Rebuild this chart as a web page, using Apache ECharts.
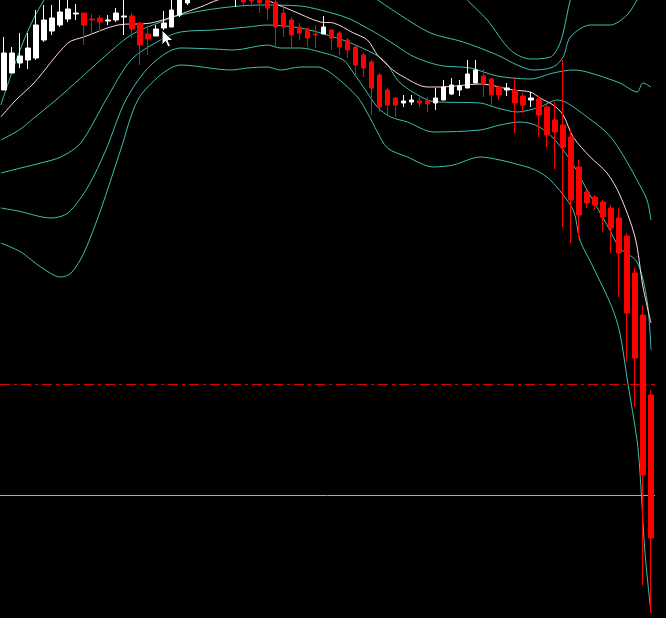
<!DOCTYPE html>
<html><head><meta charset="utf-8">
<script src="https://cdn.jsdelivr.net/npm/echarts@6/dist/echarts.min.js"></script>
<style>html,body{margin:0;padding:0;background:#000}#c{width:666px;height:618px}</style>
</head><body><div id="c"></div>
<script>
// candles: [open, close, low, high]
const candles = [
[528,565,528,581],[545,565,545,571],[555,562,550,585],[558,570,549,585],[560,593,558,608],
[578,598,576,613],[587,600,583,613],[593,606,591,618],[599,609,596,618],[604,605,598,614],
[605,593,573,605],[599,598,585,604],[600,596,586,603],[597,598,593,603],[598,605,596,610],
[601,602,583,618],[602,589,580,605],[595,573,553,596],[584,579,563,593],[582,589,582,593],
[590,595,588,607],[591,608,591,623],[603,623,601,628],[615,633,613,638],[633,643,628,648],
[643,638,630,648],[638,646,633,653],[646,636,628,650],[636,643,628,648],[621,633,611,638],
[633,616,613,636],[623,617,611,628],[621,615,605,626],[618,610,598,623],[616,591,571,618],
[605,591,581,611],[598,583,570,601],[591,585,578,595],[589,580,571,590],[584,583,570,593],
[584,591,584,602],[588,580,568,588],[585,571,563,587],[578,568,560,580],[571,553,541,573],
[563,550,541,565],[556,530,503,558],[543,511,506,545],[528,513,503,530],[520,513,501,521],
[515,517,511,523],[516,518,513,523],[517,515,511,521],[517,514,506,521],[515,520,508,530],
[518,531,518,538],[524,533,523,540],[528,532,522,538],[530,544,530,558],[535,548,535,558],
[542,534,521,549],[539,523,513,540],[531,523,518,532],[528,530,522,535],[528,515,485,541],
[522,513,505,525],[518,520,511,526],[519,503,481,523],[511,483,471,513],[498,486,449,516],
[493,471,391,558],[481,418,375,488],[451,403,381,458],[426,415,410,428],[421,413,408,423],
[416,401,386,418],[410,390,365,413],[400,365,321,410],[382,305,256,385],[345,260,211,350],
[303,143,33,313],[223,80,5,228]
];
const categories = candles.map((_, i) => 'B' + (i + 1));
// lines: [bar position, price]
const maLine = [[-0.4,501],[1.5,518],[3.75,535],[8,575],[10,581],[14.25,593],[18.4,595],[24.6,611],[26.75,618],[29.6,622],[32.1,621],[33.75,615],[35.9,608],[39.6,596],[41.25,595],[43.75,585],[45.5,578],[46.75,563],[48.4,550],[49.6,543],[53,531],[54.6,531],[59.6,534],[63.75,528],[65.9,526],[67.1,520],[68.75,513],[70,503],[71.25,481],[73.4,461],[75.5,445],[77.1,423],[79,381],[80,331],[81,295]];
const bandMid = [[-0.4,478],[1.9,488],[3.75,500],[6.5,518],[9.6,540],[12.1,558],[15.9,583],[19.6,596],[22.1,603],[27.1,610],[32.1,613],[37.1,612],[39.6,608],[43,600],[45.9,588],[48.4,576],[50.9,563],[53,556],[55,552],[58.4,550],[61.75,542],[65.9,539],[68.75,545],[71.25,548],[73,546],[77.1,535],[79.25,526],[80,535],[81,531]];
const bandLow1 = [[-0.4,445],[2.1,450],[4.6,455],[7.1,461],[9.6,475],[12.75,518],[15.9,558],[19.6,578],[22.1,586],[26.25,588],[30.5,591],[33,593],[37.1,590],[40.9,582],[44,573],[47.5,558],[49.6,535],[53,518],[54.6,516],[59.6,515],[61.75,510],[64.25,506],[67.1,511],[69.25,518],[70.5,515],[73,501],[75.5,485],[77.1,468],[79.25,438],[80.5,418],[81,398]];
const bandLow2 = [[-0.4,410],[1.75,407],[5.9,400],[8,405],[10.5,431],[12.75,468],[15.25,518],[18.4,553],[22.1,570],[26.25,569],[28.75,568],[33,573],[34.6,570],[37.1,570],[39.6,566],[42.5,558],[43.75,545],[45.25,528],[46.75,511],[48.4,501],[50.5,496],[53.75,486],[59.6,488],[62.1,493],[64.6,496],[66.5,493],[68.4,483],[70.9,458],[73,428],[75.5,393],[77.1,370],[79.25,356],[80.5,318],[81,268]];
const bandLow3 = [[-0.4,375],[2.1,366],[4.6,351],[7.1,341],[8.4,345],[10,365],[12.1,408],[14.6,468],[16.75,518],[19.6,543],[22.1,553],[28.4,548],[30.5,550],[33,551],[34.6,548],[37.1,551],[39.25,551],[41.25,543],[44.25,521],[45.5,505],[46.75,486],[48,470],[50.5,461],[53.75,451],[56.25,453],[59.6,461],[62.1,458],[64.6,453],[66.5,448],[68.4,438],[71.25,408],[72.1,378],[73.75,351],[76.1,311],[77.1,285],[78.1,235],[79.25,178],[79.6,148],[80.25,65],[81,5]];
const bandUp1Left = [[-0.4,513],[1.1,548],[2.5,578],[3.75,600],[5,618],[5.6,626]];
const bandUp2 = [[45.9,623],[49.6,603],[53.4,585],[57.5,576],[61.75,563],[64.25,553],[66.25,548],[68.75,551],[70,561],[70.9,581],[73.4,593],[75.9,593],[78,603],[79.25,618],[79.6,623]];
const bandUp3 = [[57.5,623],[58,618],[60.5,598],[63.4,568],[65.9,559],[68.4,561],[69.4,571],[70,585],[70.9,618],[71.5,628]];
const dashLevel = 234;
const greyLevel = 123;

const chart = echarts.init(document.getElementById('c'), null, {renderer: 'canvas'});
const cyan = '#3fbfae';
function band(name, data) {
  return {name, type: 'line', xAxisIndex: 1, data, showSymbol: false, smooth: 0.3,
    lineStyle: {color: cyan, width: 1}, z: 2, silent: true};
}
chart.setOption({
  backgroundColor: '#000',
  animation: false,
  grid: {left: -1, top: 0, width: 656, height: 618},
  xAxis: [
    {type: 'category', data: categories, show: false, boundaryGap: true},
    {type: 'value', min: -0.5, max: 81.5, show: false}
  ],
  yAxis: {type: 'value', min: 0, max: 618, show: false, splitLine: {show: false}},
  graphic: [{
    type: 'polygon', z: 100,
    shape: {points: [[162,30],[162,45],[165.5,41.5],[168,47],[170.5,46],[168,40.5],[173,40.5]]},
    style: {fill: '#ffffff', stroke: '#000000', lineWidth: 1}
  }],
  series: [
    band('Up3', bandUp3), band('Up2', bandUp2), band('Up1', bandUp1Left),
    band('Mid', bandMid), band('Low1', bandLow1), band('Low2', bandLow2), band('Low3', bandLow3),
    {name: 'MA', type: 'line', xAxisIndex: 1, data: maLine, showSymbol: false, smooth: 0.3,
      lineStyle: {color: '#ffd8dc', width: 1}, z: 3, silent: true,
      markLine: {symbol: 'none', silent: true, label: {show: false},
        data: [
          {yAxis: dashLevel, lineStyle: {color: '#e00000', type: [10, 4, 3, 4], width: 1}},
          {yAxis: greyLevel, lineStyle: {color: '#a3aabb', type: 'solid', width: 1}}
        ]}},
    {name: 'Price', type: 'candlestick', data: candles, barWidth: 5, z: 5,
      itemStyle: {color: '#ffffff', color0: '#ff0000', borderColor: '#ffffff', borderColor0: '#ff0000', borderWidth: 1}}
  ]
});
</script></body></html>
